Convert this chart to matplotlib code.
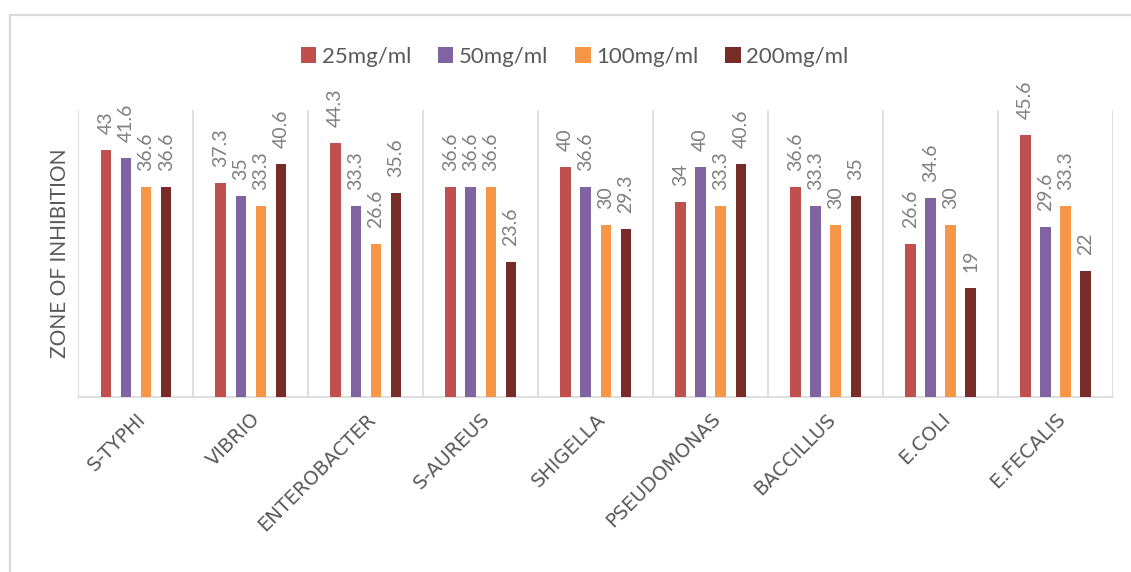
import matplotlib
matplotlib.use("Agg")
import matplotlib.pyplot as plt
from matplotlib.lines import Line2D
import numpy as np

# Bacterial strains tested
categories = ["S-TYPHI", "VIBRIO", "ENTEROBACTER", "S-AUREUS", "SHIGELLA",
              "PSEUDOMONAS", "BACCILLUS", "E.COLI", "E.FECALIS"]

# Zone of inhibition per extract concentration
conc_25 = [43, 37.3, 44.3, 36.6, 40, 34, 36.6, 26.6, 45.6]
conc_50 = [41.6, 35, 33.3, 36.6, 36.6, 40, 33.3, 34.6, 29.6]
conc_100 = [36.6, 33.3, 26.6, 36.6, 30, 33.3, 30, 30, 33.3]
conc_200 = [36.6, 40.6, 35.6, 23.6, 29.3, 40.6, 35, 19, 22]

series_names = ["25mg/ml", "50mg/ml", "100mg/ml", "200mg/ml"]
series_values = [conc_25, conc_50, conc_100, conc_200]
series_colors = ["#C0504D", "#8064A2", "#F79646", "#772C2A"]

W, H = 1131, 572
fig = plt.figure(figsize=(W / 100, H / 100), dpi=100)
fig.patch.set_facecolor("white")

# chart-area frame (top and left edges visible)
frame_col = "#D9D9D9"
fig.add_artist(Line2D([10 / W, 1.0], [1 - 15 / H, 1 - 15 / H],
                      transform=fig.transFigure, color=frame_col, lw=1.6))
fig.add_artist(Line2D([10 / W, 10 / W], [0.0, 1 - 15 / H],
                      transform=fig.transFigure, color=frame_col, lw=1.6))

left, right = 78.5 / W, 1113 / W
bottom, top = 1 - 397 / H, 1 - 110 / H
ax = fig.add_axes([left, bottom, right - left, top - bottom])

x = np.arange(len(categories))
step = 0.175
bar_w = 0.092
label_col = "#7F7F7F"

for i, (name, vals, col) in enumerate(zip(series_names, series_values, series_colors)):
    xpos = x + (i - 1.5) * step
    ax.bar(xpos, vals, width=bar_w, color=col, label=name, zorder=3)
    for xp, v in zip(xpos, vals):
        ax.annotate(f"{v:g}", xy=(xp, v), xytext=(0, 16),
                    textcoords="offset pixels", rotation=90,
                    ha="center", va="bottom", fontsize=14,
                    family="Lato", color=label_col, annotation_clip=False)

ax.set_xlim(-0.5, len(categories) - 0.5)
ax.set_ylim(0, 50)

# vertical category separators
for b in np.arange(len(categories) + 1) - 0.5:
    ax.axvline(b, color=frame_col, lw=1.2, zorder=1)

for s in ["top", "left", "right"]:
    ax.spines[s].set_visible(False)
ax.spines["bottom"].set_color(frame_col)
ax.spines["bottom"].set_linewidth(1.2)

ax.set_yticks([])
ax.set_xticks(x)
ax.set_xticklabels(categories, rotation=45, ha="right", va="top",
                   rotation_mode="anchor", fontsize=14,
                   family="DejaVu Sans", color="#595959")
ax.tick_params(axis="x", length=0, pad=9)

ax.set_ylabel("ZONE OF INHIBITION", fontsize=15, family="Lato",
              color="#595959", labelpad=6)

leg = fig.legend(loc="center", bbox_to_anchor=(0.508, 1 - 57 / H), ncol=4,
                 frameon=False, prop={"family": "Lato", "size": 16},
                 handlelength=0.7, handleheight=0.7, handletextpad=0.25,
                 columnspacing=1.2)
for t in leg.get_texts():
    t.set_color("#595959")

fig.savefig("out.png", dpi=100, facecolor="white")
